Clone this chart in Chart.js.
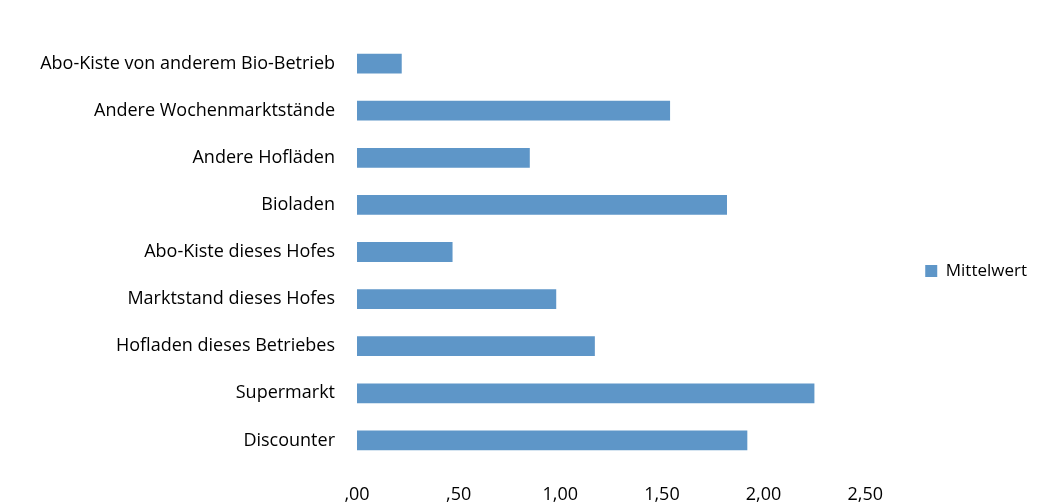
<!DOCTYPE html>
<html>
<head>
<meta charset="utf-8">
<script src="https://cdn.jsdelivr.net/npm/chart.js@4"></script>
<style>
html,body{margin:0;padding:0;background:#fff;}
#wrap{width:1037px;height:504px;}
</style>
</head>
<body>
<div id="wrap"><canvas id="c" width="1037" height="504"></canvas></div>
<script>
const categories = [
  'Abo-Kiste von anderem Bio-Betrieb',
  'Andere Wochenmarktstände',
  'Andere Hofläden',
  'Bioladen',
  'Abo-Kiste dieses Hofes',
  'Marktstand dieses Hofes',
  'Hofladen dieses Betriebes',
  'Supermarkt',
  'Discounter'
];
const mittelwert = [0.22, 1.54, 0.85, 1.82, 0.47, 0.98, 1.17, 2.25, 1.92];
const tickLabels = [',00', ',50', '1,00', '1,50', '2,00', '2,50'];
const seriesLabel = 'Mittelwert';

const FONT = '"Open Sans", Lato, sans-serif';
Chart.defaults.font.family = FONT;
Chart.defaults.font.size = 18;
Chart.defaults.color = '#000';

new Chart(document.getElementById('c'), {
  type: 'bar',
  data: {
    labels: categories,
    datasets: [{
      label: seriesLabel,
      data: mittelwert,
      backgroundColor: '#5E96C8',
      borderWidth: 0,
      barPercentage: 0.42,
      categoryPercentage: 1.0
    }]
  },
  options: {
    indexAxis: 'y',
    responsive: false,
    animation: false,
    layout: { padding: { top: 40, bottom: 2, left: 0, right: 0 } },
    plugins: {
      legend: {
        position: 'right',
        labels: { boxWidth: 12, boxHeight: 12, padding: 60, font: { size: 17 }, color: '#000' }
      },
      tooltip: { enabled: false }
    },
    scales: {
      x: {
        min: 0, max: 2.5,
        grid: { display: false, drawTicks: false },
        border: { display: false },
        ticks: {
          stepSize: 0.5,
          padding: 20,
          maxRotation: 0,
          callback: function(v, i) { return tickLabels[i]; }
        },
        afterFit: function(scale) { scale.height = 38; }
      },
      y: {
        grid: { display: false, drawTicks: false },
        border: { display: false },
        ticks: { padding: 22 },
        afterFit: function(scale) { scale.width = 357; }
      }
    }
  }
});
</script>
</body>
</html>
